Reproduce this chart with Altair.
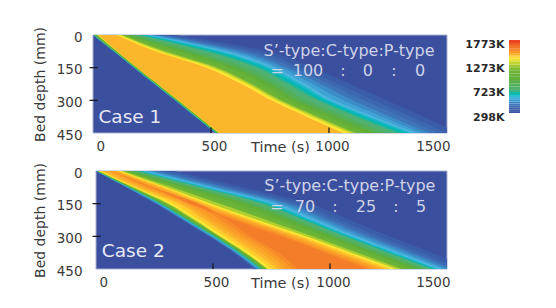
import altair as alt
import pandas as pd

DEPTHS = [0, 75, 150, 225, 300, 375, 450]
TEMP_STOPS = [298, 430, 554, 690, 905, 1130, 1300, 1393, 1455, 1590, 1773]
COLOR_STOPS = ["#3b4f9f", "#3f6fb4", "#4cb6de", "#4fb173", "#5fae3a", "#6fb535", "#c4d52f", "#ffe733", "#fcb62c", "#f47d2a", "#ea3023"]

CASE1 = [
    [350, [0, 87, 173, 260, 347, 433, 520], [350, 740, 930, 1090, 1245, 1400, 1550]],
    [400, [0, 87, 173, 260, 347, 433, 520], [310, 690, 880, 1040, 1190, 1350, 1500]],
    [440, [0, 87, 174, 261, 348, 434, 521], [285, 650, 850, 1000, 1145, 1305, 1460]],
    [480, [1, 88, 174, 261, 348, 434, 521], [265, 620, 820, 965, 1100, 1260, 1425]],
    [520, [1, 88, 175, 262, 349, 435, 522], [250, 590, 795, 930, 1060, 1225, 1395]],
    [554, [2, 89, 175, 262, 349, 435, 522], [237, 563, 770, 900, 1020, 1190, 1370]],
    [590, [2, 89, 176, 263, 350, 436, 523], [225, 540, 750, 880, 1000, 1170, 1350]],
    [620, [3, 90, 176, 263, 350, 436, 523], [215, 520, 730, 860, 985, 1150, 1330]],
    [655, [3, 90, 177, 264, 351, 437, 524], [205, 500, 712, 842, 967, 1132, 1310]],
    [690, [4, 91, 177, 264, 351, 437, 524], [195, 480, 695, 825, 950, 1115, 1290]],
    [800, [5, 92, 179, 266, 353, 439, 526], [172, 435, 650, 790, 905, 1075, 1245]],
    [905, [6, 93, 180, 267, 354, 440, 527], [150, 394, 610, 755, 865, 1035, 1200]],
    [1020, [7, 94, 181, 268, 355, 441, 528], [140, 365, 580, 725, 840, 1000, 1165]],
    [1130, [16, 101, 187, 274, 361, 447, 534], [130, 335, 550, 695, 815, 975, 1135]],
    [1260, [18, 101, 187, 274, 361, 447, 534], [122, 305, 525, 670, 795, 950, 1110]],
    [1330, [20, 102, 188, 275, 362, 448, 535], [117, 292, 512, 660, 785, 938, 1097]],
    [1393, [22, 102, 188, 275, 362, 448, 535], [112, 280, 500, 650, 775, 925, 1085]],
    [1455, [25, 103, 189, 276, 363, 449, 536], [100, 265, 480, 630, 755, 905, 1060]],
]
CASE2 = [
    [350, [0, 126, 252, 367, 480, 587, 676], [335, 630, 915, 1085, 1255, 1435, 1605]],
    [400, [0, 128, 255, 370, 483, 590, 680], [299, 590, 870, 1040, 1210, 1390, 1560]],
    [440, [0, 130, 258, 373, 486, 593, 684], [270, 560, 840, 1010, 1180, 1360, 1535]],
    [480, [1, 132, 262, 377, 490, 597, 688], [250, 535, 815, 985, 1155, 1340, 1515]],
    [520, [1, 134, 265, 380, 493, 600, 692], [230, 510, 790, 960, 1130, 1315, 1495]],
    [554, [2, 136, 268, 384, 497, 604, 696], [213, 490, 769, 940, 1110, 1295, 1479]],
    [590, [2, 137, 270, 386, 499, 606, 698], [200, 472, 750, 920, 1090, 1275, 1460]],
    [620, [3, 138, 272, 388, 501, 608, 700], [190, 460, 732, 905, 1077, 1262, 1447]],
    [655, [3, 139, 274, 390, 503, 610, 702], [185, 455, 722, 897, 1070, 1255, 1440]],
    [690, [4, 140, 276, 392, 505, 612, 705], [180, 450, 715, 890, 1065, 1250, 1435]],
    [800, [5, 143, 280, 396, 509, 616, 710], [160, 420, 680, 860, 1037, 1222, 1407]],
    [905, [6, 146, 285, 401, 514, 621, 715], [141, 395, 646, 830, 1010, 1195, 1380]],
    [1020, [7, 149, 290, 406, 518, 625, 719], [132, 372, 608, 797, 982, 1170, 1355]],
    [1130, [8, 152, 296, 412, 523, 630, 724], [125, 350, 570, 765, 955, 1145, 1330]],
    [1260, [10, 156, 304, 418, 526, 635, 730], [115, 325, 530, 728, 925, 1117, 1305]],
    [1393, [12, 160, 312, 425, 530, 640, 735], [107, 300, 491, 690, 897, 1090, 1282]],
    [1425, [18, 168, 330, 442, 548, 658, 752], [98, 290, 475, 672, 878, 1070, 1260]],
    [1455, [25, 178, 355, 465, 570, 680, 775], [90, 280, 460, 655, 860, 1050, 1240]],
    [1490, [45, 192, 372, 485, 592, 705, 795], [80, 265, 445, 640, 842, 1032, 1222]],
    [1520, [60, 210, 390, 505, 615, 730, 815], [72, 250, 430, 625, 825, 1015, 1205]],
    [1555, [68, 225, 415, 532, 637, 755, 838], [70, 245, 415, 607, 807, 997, 1182]],
    [1590, [75, 240, 440, 560, 660, 780, 860], [75, 240, 400, 590, 790, 980, 1160]],
]
BAR_T = [298, 330, 360, 395, 430, 460, 490, 520, 554, 590, 620, 655, 690, 760, 830, 905, 980, 1055, 1130, 1200, 1260, 1330, 1393, 1425, 1455, 1500, 1545, 1590, 1650, 1710, 1773]
BAR_TICKS = [1773, 1273, 723, 298]
BAR_PIX = [5, 29, 53, 78]
X_LABELS = [0, 500, 1000, 1500]
Y_LABELS = [0, 150, 300, 450]
X_TICKS = [500, 1000]
Y_TICKS = [150, 300]
RATIO_HEAD = "S’-type:C-type:P-type"
CASE1_TOKENS = ["=", "100", ":", "0", ":", "0"]
CASE1_TOKEN_T = [780, 911, 1059, 1165, 1275, 1386]
CASE2_TOKENS = ["=", "70", ":", "25", ":", "5"]
CASE2_TOKEN_T = [773, 893, 1021, 1154, 1282, 1389]
FONT = "DejaVu Sans"
INK = "#3a3a3a"
PALE = "#cfd3e8"

color_scale = alt.Scale(domain=TEMP_STOPS, range=COLOR_STOPS)


def table(levels):
    rows = []
    for t, lead, trail in levels:
        for d, a, b in zip(DEPTHS, lead, trail):
            rows.append({"T": t, "d": d, "lead": a, "trail": b})
    return pd.DataFrame(rows)


def panel(levels, case, case_t, case_d, head_d, tok, tok_t, tok_d, xrange, x_title_y):
    xs = alt.Scale(domain=[0, 1500], range=xrange, nice=False)
    ys = alt.Scale(domain=[0, 450], reverse=True, nice=False)
    x_axis = alt.Axis(values=X_LABELS, grid=False, domain=False, ticks=False,
                      labelPadding=6, labelFontSize=13.5, labelColor=INK,
                      labelOffset=3, format="d", labelOverlap=False, labelBound=False,
                      labelFont=FONT, title="Time (s)", titleFont=FONT, titleFontSize=14.5,
                      titleFontWeight="normal", titleColor=INK, titleX=187, titleY=x_title_y)
    y_axis = alt.Axis(values=Y_LABELS, grid=False, domain=False, ticks=False,
                      labelPadding=11, labelFontSize=13.5, labelColor=INK,
                      labelOffset=2, format="d", labelOverlap=False, labelBound=False,
                      labelFont=FONT, title="Bed depth (mm)", titleFont=FONT, titleFontSize=14,
                      titleFontWeight="normal", titleColor=INK, titlePadding=9)
    X = lambda f: alt.X(f, scale=xs, axis=x_axis)
    Y = lambda f: alt.Y(f, scale=ys, axis=y_axis)
    base = alt.Chart(pd.DataFrame({"t0": [0], "t1": [1500], "d0": [0], "d1": [450], "T": [298]})).mark_rect(
        stroke="#a9b0d2", strokeWidth=1).encode(
        x=X("t0:Q"), x2="t1:Q", y=Y("d0:Q"), y2="d1:Q",
        color=alt.Color("T:Q", scale=color_scale, legend=None))
    area = alt.Chart(table(levels)).mark_area(orient="horizontal", clip=True, interpolate="monotone").encode(
        x=X("lead:Q"), x2="trail:Q", y=Y("d:Q"),
        color=alt.Color("T:Q", scale=color_scale, legend=None),
        detail="T:Q",
    )
    y_ticks = alt.Chart(pd.DataFrame({"d": Y_TICKS, "a": [-15, -15], "b": [20, 20]})).mark_rule(
        color="#111", strokeWidth=1.2).encode(x=X("a:Q"), x2="b:Q", y=Y("d:Q"))
    x_ticks = alt.Chart(pd.DataFrame({"t": X_TICKS, "a": [425, 425], "b": [450, 450]})).mark_rule(
        color="#111", strokeWidth=1.2).encode(x=X("t:Q"), y=Y("a:Q"), y2="b:Q")
    case_text = alt.Chart(pd.DataFrame({"t": [case_t], "d": [case_d], "s": [case]})).mark_text(
        align="left", font=FONT, fontSize=18.5, color="#e6e8f4").encode(
        x=X("t:Q"), y=Y("d:Q"), text="s:N")
    head = alt.Chart(pd.DataFrame({"t": [1085], "d": [head_d], "s": [RATIO_HEAD]})).mark_text(
        align="center", font=FONT, fontSize=16, color=PALE).encode(
        x=X("t:Q"), y=Y("d:Q"), text="s:N")
    toks = alt.Chart(pd.DataFrame({"t": tok_t, "d": [tok_d] * len(tok), "s": tok})).mark_text(
        align="center", font=FONT, fontSize=16, color=PALE).encode(
        x=X("t:Q"), y=Y("d:Q"), text="s:N")
    return alt.layer(base, area, y_ticks, x_ticks, case_text, head, toks).properties(width=354, height=98)


p1 = panel(CASE1, "Case 1", 23, 376, 73, CASE1_TOKENS, CASE1_TOKEN_T, 165, [0, 354], 7)
p2 = panel(CASE2, "Case 2", 25, 367, 69, CASE2_TOKENS, CASE2_TOKEN_T, 165, [3, 354], 7)

pairs = list(zip(BAR_T[:-1], BAR_T[1:]))
bar_df = pd.DataFrame({"lo": [a for a, b in pairs], "hi": [b for a, b in pairs]})
bar_df["mid"] = (bar_df.lo + bar_df.hi) / 2
bar = alt.Chart(bar_df).mark_rect().encode(
    y=alt.Y("lo:Q", scale=alt.Scale(domain=BAR_TICKS, range=BAR_PIX),
            axis=alt.Axis(values=BAR_TICKS, grid=False, domain=False, ticks=False, title=None,
                          labelExpr="datum.value+'K'", labelFont=FONT, labelFontSize=11,
                          labelFontWeight="bold", labelColor="#2a2a2a", labelOffset=4, labelPadding=5)),
    y2="hi:Q",
    color=alt.Color("mid:Q", scale=color_scale, legend=None),
).properties(width=11, height=98)

chart = alt.hconcat(alt.vconcat(p1, p2, spacing=8), bar, spacing=14).properties(
    padding={"left": 25, "top": 18, "right": 0, "bottom": 0},
    background="white",
).configure_view(stroke=None)

chart.save("out.html", embed_options={"renderer": "svg", "actions": False})
